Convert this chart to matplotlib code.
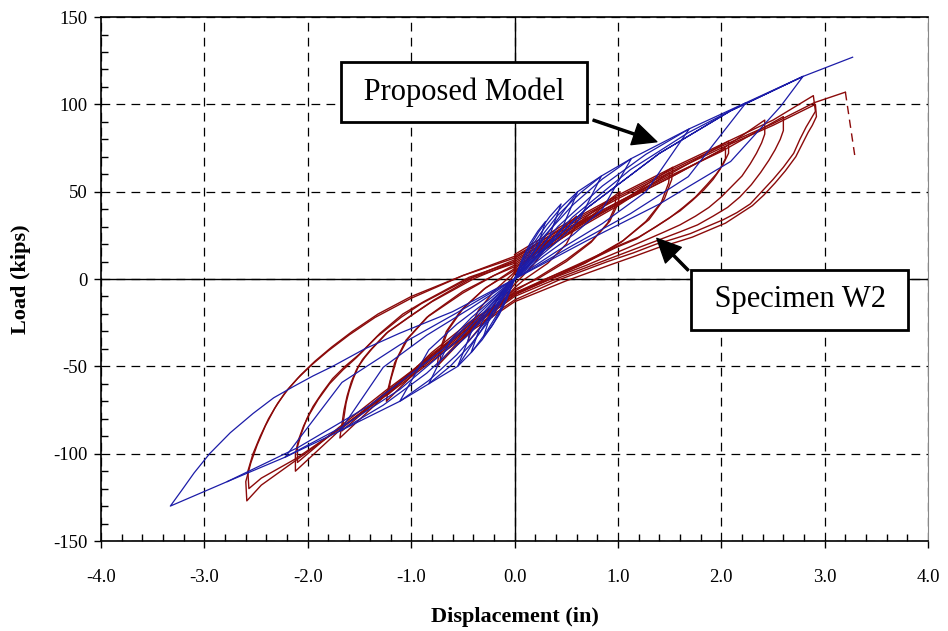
import matplotlib
matplotlib.use("Agg")
import numpy as np
import matplotlib.pyplot as plt
from matplotlib.ticker import MultipleLocator

plt.rcParams['font.family'] = ['Liberation Serif', 'DejaVu Serif']
plt.rcParams['axes.unicode_minus'] = False

# ---- Proposed model (blue), one list of (disp, load) per cycle ----
model_s1 = [(0, 0), (0.075, 11.6), (0.15, 20.5), (0.225, 27.4), (0.3, 33), (0.225, 19.1), (0.15, 12.2), (0.075, 6.3),
            (0, 0), (-0.075, -11.6), (-0.15, -20.5), (-0.225, -27.4), (-0.3, -33), (-0.225, -19.1), (-0.15, -12.2),
            (-0.075, -6.3), (0, 0)]
model_s2 = [(0, 0), (0.11, 15), (0.23, 26.7), (0.34, 35.7), (0.45, 43), (0.34, 24.9), (0.23, 15.9), (0.11, 8.2),
            (0, 0), (-0.105, -14.7), (-0.21, -26), (-0.315, -34.9), (-0.42, -42), (-0.315, -24.4), (-0.21, -15.5),
            (-0.105, -8), (0, 0)]
model_c1 = [(0, 0), (0.15, 17.5), (0.31, 31), (0.46, 41.5), (0.61, 50), (0.46, 29), (0.31, 18.5), (0.15, 9.5),
            (0, 0), (-0.14, -17.5), (-0.28, -31), (-0.41, -41.5), (-0.55, -50), (-0.41, -29), (-0.28, -18.5),
            (-0.14, -9.5), (0, 0)]
model_c2 = [(0, 0), (0.21, 20.7), (0.42, 36.6), (0.63, 49), (0.84, 59), (0.63, 34.2), (0.42, 21.8), (0.21, 11.2),
            (0, 0), (-0.21, -21), (-0.42, -37.2), (-0.62, -49.8), (-0.83, -60), (-0.62, -34.8), (-0.42, -22.2),
            (-0.21, -11.4), (0, 0)]
model_c3 = [(0, 0), (0.28, 24.2), (0.57, 42.8), (0.85, 57.3), (1.13, 69), (0.85, 40), (0.57, 25.5), (0.28, 13.1),
            (0, 0), (-0.28, -24.5), (-0.56, -43.4), (-0.83, -58.1), (-1.11, -70), (-0.83, -40.6), (-0.56, -25.9),
            (-0.28, -13.3), (0, 0)]
model_c4 = [(0, 0), (0.42, 30.1), (0.85, 53.3), (1.27, 71.4), (1.69, 86), (1.27, 49.9), (0.85, 31.8), (0.42, 16.3),
            (0, 0), (-0.42, -30.5), (-0.85, -53.9), (-1.27, -72.2), (-1.69, -87), (-1.27, -50.5), (-0.85, -32.2),
            (-0.42, -16.5), (0, 0)]
model_c5 = [(0, 0), (0.56, 35.4), (1.12, 62.6), (1.68, 83.8), (2.24, 101), (1.68, 58.6), (1.12, 37.4), (0.56, 19.2),
            (0, 0), (-0.56, -35.7), (-1.11, -63.2), (-1.67, -84.7), (-2.22, -102), (-1.67, -59.2), (-1.11, -37.7),
            (-0.56, -19.4), (0, 0)]
model_c6 = [(0, 0), (0.7, 40.6), (1.4, 71.9), (2.09, 96.3), (2.79, 116), (2.57, 98.6), (2.09, 67.3), (1.4, 42.9),
            (0.7, 22), (0, 0), (-0.7, -40.6), (-1.39, -71.9), (-2.09, -96.3), (-2.78, -116), (-3.33, -130),
            (-3.22, -121), (-3.1, -111), (-2.95, -100), (-2.75, -88), (-2.53, -77), (-2.33, -68), (-2.14, -61.6),
            (-1.95, -55.5), (-1.76, -50), (-1.45, -40), (-1.11, -31), (-0.6, -18.7),
            (0, 0), (0.7, 40.6), (1.4, 71.9), (2.09, 96.3), (2.79, 116), (3.27, 127)]
model_backbone = [(-2.78, -116), (-2.22, -102), (-1.69, -87), (-1.11, -70), (-0.83, -60), (-0.55, -50),
                  (0, 0), (0.61, 50), (0.84, 59), (1.13, 69), (1.69, 86), (2.24, 101), (2.79, 116)]

# ---- Specimen W2 (red), one list of (disp, load) per cycle ----
w2_l1 = [(0, 3), (0.15, 13), (0.3, 22), (0.28, 16), (0.18, 8), (0.05, 0), (0, -3), (-0.1, -10), (-0.22, -22),
         (-0.2, -15), (-0.12, -7), (0, 3)]
w2_l2 = [(0, 4), (0.3, 20), (0.6, 36), (0.58, 29), (0.5, 20), (0.32, 9), (0.1, 0), (0, -5), (-0.2, -18),
         (-0.45, -36), (-0.43, -28), (-0.35, -18), (-0.2, -7), (0, 4)]
w2_l3a = [(0, 6), (0.5, 27), (1.02, 50), (1.0, 43), (0.92, 33), (0.75, 22), (0.5, 11), (0.2, 0), (0, -7),
          (-0.35, -25), (-0.75, -50), (-0.73, -42), (-0.66, -30), (-0.52, -18), (-0.3, -6), (0, 6)]
w2_l3b = [(0, 5), (0.5, 25), (0.98, 47), (0.97, 41), (0.9, 32), (0.74, 21), (0.5, 10), (0.22, 0), (0, -6),
          (-0.35, -24), (-0.72, -47), (-0.71, -40), (-0.64, -29), (-0.5, -17), (-0.28, -5), (0, 5)]
w2_l4a = [(0, 8), (0.5, 26), (1.0, 43), (1.53, 64), (1.52, 57), (1.45, 46), (1.3, 34), (1.05, 22), (0.7, 10),
          (0.3, 0), (0, -8), (-0.4, -24), (-0.8, -44), (-1.24, -70), (-1.22, -62), (-1.16, -48), (-1.05, -35),
          (-0.85, -22), (-0.5, -8), (-0.2, 2), (0, 8)]
w2_l4b = [(0, 7), (0.5, 25), (1.0, 42), (1.5, 61), (1.49, 55), (1.42, 44), (1.27, 33), (1.03, 21), (0.68, 9),
          (0.3, -1), (0, -8), (-0.4, -23), (-0.8, -42), (-1.22, -66), (-1.2, -58), (-1.14, -46), (-1.03, -34),
          (-0.83, -21), (-0.5, -7), (-0.2, 2), (0, 7)]
w2_l5a = [(0, 10), (0.5, 28), (1.0, 44), (1.5, 60), (2.07, 79), (2.07, 72), (2.02, 66), (1.95, 60), (1.86, 54),
          (1.75, 47), (1.63, 41), (1.5, 35), (1.37, 30), (1.2, 24), (1.0, 19), (0.6, 8), (0.3, 0), (0, -9),
          (-0.4, -26), (-0.8, -44), (-1.24, -66), (-1.69, -91), (-1.67, -83), (-1.65, -75), (-1.62, -67),
          (-1.58, -59), (-1.53, -52), (-1.47, -46), (-1.4, -41), (-1.24, -31), (-1.0, -21), (-0.8, -13),
          (-0.4, 0), (0, 10)]
w2_l5b = [(0, 9), (0.5, 27), (1.0, 43), (1.5, 58), (2.04, 75), (2.04, 69), (1.99, 63), (1.92, 57), (1.83, 51),
          (1.72, 45), (1.6, 39), (1.47, 34), (1.34, 29), (1.18, 23), (0.98, 18), (0.6, 7), (0.3, -1), (0, -9),
          (-0.4, -25), (-0.8, -43), (-1.22, -64), (-1.67, -87), (-1.65, -79), (-1.63, -71), (-1.6, -64),
          (-1.56, -57), (-1.51, -50), (-1.45, -45), (-1.38, -40), (-1.22, -30), (-0.98, -20), (-0.78, -12),
          (-0.4, 1), (0, 9)]
w2_l6a = [(0, 11), (0.5, 28), (1.0, 43), (1.5, 58), (2.0, 74), (2.42, 91), (2.42, 83), (2.39, 78), (2.34, 72),
          (2.28, 66), (2.2, 59), (2.1, 53), (2.0, 47), (1.88, 41), (1.75, 36), (1.6, 31), (1.45, 27), (1.1, 18),
          (0.7, 8), (0.35, 0), (0, -9), (-0.4, -26), (-0.8, -44), (-1.25, -64), (-1.7, -85), (-2.1, -105),
          (-2.1, -96), (-2.06, -88), (-2.01, -80), (-1.95, -73), (-1.86, -65), (-1.76, -57), (-1.64, -50),
          (-1.5, -43), (-1.3, -31), (-1.08, -20), (-0.88, -13), (-0.44, 1), (0, 10)]
w2_l6b = [(0, 12), (0.5, 29), (1.0, 44), (1.5, 59), (2.0, 73), (2.3, 83), (2.6, 93), (2.6, 85), (2.57, 80),
          (2.52, 74), (2.46, 68), (2.38, 61), (2.29, 54), (2.18, 47), (2.06, 41), (1.92, 36), (1.77, 31),
          (1.6, 27), (1.2, 18), (0.8, 9), (0.4, 0), (0, -10), (-0.4, -27), (-0.8, -45), (-1.25, -65),
          (-1.7, -87), (-2.12, -110), (-2.12, -100), (-2.09, -92), (-2.04, -84), (-1.98, -77), (-1.9, -69),
          (-1.79, -60), (-1.66, -52), (-1.53, -45), (-1.33, -33), (-1.1, -22), (-0.9, -14), (-0.45, 0), (0, 11)]
w2_l7a = [(0, 14), (0.5, 32), (1.0, 48), (1.5, 63), (2.0, 77), (2.5, 91), (2.89, 105), (2.91, 96), (2.87, 92),
          (2.82, 87), (2.76, 80), (2.7, 72), (2.6, 64), (2.5, 57), (2.39, 50), (2.28, 43), (2.15, 38),
          (2.02, 34), (1.86, 30), (1.7, 26), (1.54, 23), (1.37, 20), (1.15, 15), (0.9, 10), (0.45, 0), (0, -12),
          (-0.4, -28), (-0.8, -46), (-1.25, -66), (-1.7, -86), (-2.12, -104), (-2.45, -118), (-2.59, -127),
          (-2.6, -116), (-2.55, -105), (-2.49, -95), (-2.41, -84), (-2.32, -74), (-2.22, -65), (-2.1, -57),
          (-1.96, -49), (-1.8, -41), (-1.6, -32), (-1.35, -22), (-1.0, -11), (-0.5, 2), (0, 13)]
w2_l7b = [(0, 13), (0.5, 30), (1.0, 46), (1.5, 61), (2.0, 75), (2.5, 88), (2.91, 100), (2.92, 93), (2.88, 88),
          (2.84, 84), (2.78, 77), (2.72, 70), (2.62, 62), (2.52, 55), (2.41, 48), (2.3, 42), (2.17, 37),
          (2.04, 32), (1.88, 28), (1.72, 24), (1.56, 21), (1.39, 18), (1.16, 13), (0.92, 8), (0.5, -1), (0, -13),
          (-0.4, -29), (-0.8, -47), (-1.25, -67), (-1.7, -86), (-2.12, -103), (-2.45, -114), (-2.57, -120),
          (-2.58, -110), (-2.53, -100), (-2.46, -90), (-2.38, -80), (-2.29, -71), (-2.19, -63), (-2.07, -55),
          (-1.93, -47), (-1.77, -39), (-1.57, -30), (-1.32, -20), (-1.0, -10), (-0.5, 2), (0, 12)]
w2_final = [(0, 12), (0.5, 31), (1.0, 47), (1.5, 62), (2.0, 76), (2.5, 89), (2.9, 101), (3.2, 107)]
w2_drop = [(3.2, 107), (3.29, 71)]

model_cycles = [model_s1, model_s2, model_c1, model_c2, model_c3, model_c4, model_c5, model_c6]
w2_cycles = [w2_l1, w2_l2, w2_l3a, w2_l3b, w2_l4a, w2_l4b, w2_l5a, w2_l5b, w2_l6a, w2_l6b,
             w2_l7a, w2_l7b, w2_final]

x_ticks = np.arange(-4, 4.01, 1.0)
y_ticks = np.arange(-150, 151, 50)

blue = '#1c1ca8'
red = '#8b0a0a'

fig = plt.figure(figsize=(9.48, 6.31), dpi=100)
ax = fig.add_axes([0.1066, 0.1426, 0.8724, 0.8304])

ax.set_xticks(x_ticks)
ax.set_xticklabels(['%.1f' % v for v in x_ticks])
ax.set_yticks(y_ticks)
ax.xaxis.set_minor_locator(MultipleLocator(0.2))
ax.yaxis.set_minor_locator(MultipleLocator(10))
ax.set_xlim(-4, 4)
ax.set_ylim(-150, 150)
ax.tick_params(axis='x', which='major', direction='out', length=5, width=1, labelsize=13.5, pad=15)
ax.tick_params(axis='y', which='major', direction='out', length=5, width=1, labelsize=13.5, pad=5)
ax.tick_params(which='minor', direction='in', length=5, width=1)
ax.tick_params(top=False, right=False, which='both')

ax.grid(True, which='major', color='black', linestyle=(0, (7, 5)), linewidth=0.9)
ax.axhline(0, color='black', lw=1.0)
ax.axvline(0, color='black', lw=1.0)
ax.set_axisbelow(True)

for c in w2_cycles:
    ax.plot([p[0] for p in c], [p[1] for p in c], color=red, lw=1.0)
ax.plot([p[0] for p in w2_drop], [p[1] for p in w2_drop], color=red, lw=1.0, linestyle=(0, (6, 4)))

for c in model_cycles:
    ax.plot([p[0] for p in c], [p[1] for p in c], color=blue, lw=0.9)
ax.plot([p[0] for p in model_backbone], [p[1] for p in model_backbone], color=blue, lw=0.9)

for s in ['left', 'bottom', 'top']:
    ax.spines[s].set_linewidth(1.2)
ax.spines['right'].set_color('#888888')

ax.set_xlabel('Displacement (in)', fontsize=16, fontweight='bold', labelpad=15)
ax.set_ylabel('Load (kips)', fontsize=16, fontweight='bold', labelpad=16)

box = dict(boxstyle='square,pad=0.5', facecolor='white', edgecolor='black', linewidth=2)
ax.annotate('', xy=(1.376, 78.6), xytext=(0.76, 91),
            arrowprops=dict(facecolor='black', edgecolor='black', width=1.5, headwidth=16, headlength=17, shrink=0))
ax.text(-0.49, 107, ' Proposed Model ', fontsize=22, ha='center', va='center', bbox=box, zorder=5)

ax.annotate('', xy=(1.376, 23.3), xytext=(1.68, 5),
            arrowprops=dict(facecolor='black', edgecolor='black', width=1.5, headwidth=16, headlength=17, shrink=0))
ax.text(2.76, -12, ' Specimen W2 ', fontsize=22, ha='center', va='center', bbox=box, zorder=5)

fig.savefig('out.png', dpi=100)
